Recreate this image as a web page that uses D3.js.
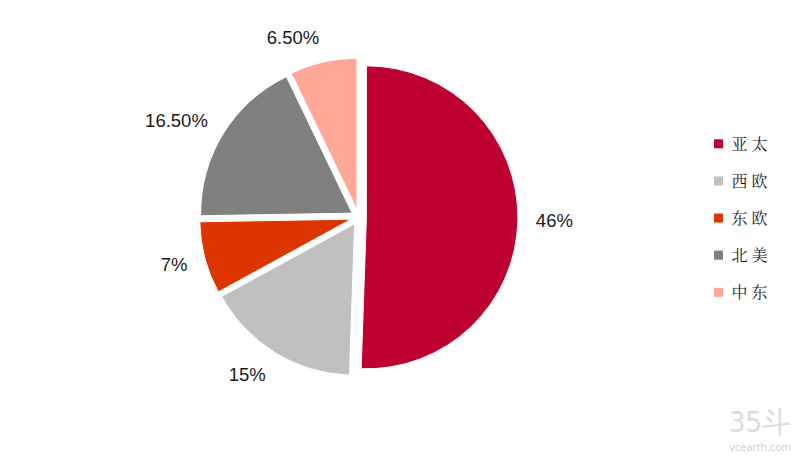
<!DOCTYPE html>
<html>
<head>
<meta charset="utf-8">
<script src="https://cdn.jsdelivr.net/npm/d3@7"></script>
<style>
  html, body { margin: 0; padding: 0; background: #fff; }
  svg { display: block; }
</style>
</head>
<body>
<svg id="chart" width="795" height="468"></svg>
<script>
const categories = ["亚太", "西欧", "东欧", "北美", "中东"];
const values = [46, 15, 7, 16.5, 6.5];
const valueLabels = ["46%", "15%", "7%", "16.50%", "6.50%"];
const colors = ["#BD0030", "#C0C0C0", "#DC3500", "#808080", "#FFA897"];

const svg = d3.select("#chart");
const cx = 358.7, cy = 217.2, r = 151.5, explode = 7.7;

const pie = d3.pie().sort(null).value(d => d)
  .startAngle(0).endAngle(2 * Math.PI);
const arcs = pie(values);
const arc = d3.arc().innerRadius(0).outerRadius(r);
const midArc = d3.arc().innerRadius(r + explode).outerRadius(r + explode);

const g = svg.append("g").attr("transform", `translate(${cx},${cy})`);

g.selectAll("path.slice").data(arcs).enter().append("path")
  .attr("class", "slice")
  .attr("d", arc)
  .attr("fill", (d, i) => colors[i])
  .attr("stroke", "#fff")
  .attr("stroke-width", 1)
  .attr("transform", d => {
    const a = (d.startAngle + d.endAngle) / 2;
    return `translate(${explode * Math.sin(a)},${-explode * Math.cos(a)})`;
  });

// Outside labels
const fs = 18.5, D = 18, lh = 15;
g.selectAll("text.lbl").data(arcs).enter().append("text")
  .attr("class", "lbl")
  .attr("font-family", "'Liberation Sans', Arial, sans-serif")
  .attr("font-size", fs)
  .attr("fill", "#1a1a1a")
  .attr("text-anchor", d => {
    const a = (d.startAngle + d.endAngle) / 2;
    return Math.sin(a) >= 0 ? "start" : "end";
  })
  .attr("x", d => {
    const a = (d.startAngle + d.endAngle) / 2;
    const p = midArc.centroid(d);
    return p[0] + D * Math.sin(a);
  })
  .attr("y", d => {
    const a = (d.startAngle + d.endAngle) / 2;
    const p = midArc.centroid(d);
    const uy = -Math.cos(a);
    return p[1] + D * uy + (lh / 2) * uy;
  })
  .attr("dy", "0.36em")
  .text((d, i) => valueLabels[i]);

// Legend
const legendY = d3.scalePoint().domain(categories).range([143.8, 292.3]);
const lg = svg.append("g");
const items = lg.selectAll("g.item").data(categories).enter().append("g")
  .attr("class", "item")
  .attr("transform", d => `translate(714,${legendY(d)})`);
items.append("rect")
  .attr("x", 0).attr("y", -4.5).attr("width", 9).attr("height", 9)
  .attr("fill", (d, i) => colors[i]);
items.append("text")
  .attr("x", 17.5).attr("y", 0).attr("dy", "0.36em")
  .attr("font-family", "'Noto Serif CJK SC', 'Noto Sans CJK SC', sans-serif")
  .attr("font-size", 16)
  .attr("letter-spacing", 4)
  .attr("fill", "#1a1a1a")
  .text(d => d);

// Watermark
svg.append("text")
  .attr("x", 729).attr("y", 432)
  .attr("font-family", "'DejaVu Sans Condensed', 'Liberation Sans Narrow', sans-serif")
  .attr("font-size", 29)
  .attr("font-weight", 300)
  .attr("fill", "#dcdcdc")
  .text("35斗");
svg.append("text")
  .attr("x", 729).attr("y", 451)
  .attr("font-family", "'Liberation Sans Narrow', 'DejaVu Sans Condensed', sans-serif")
  .attr("font-size", 11)
  .attr("fill", "#d0d0d0")
  .text("vcearth.com");
</script>
</body>
</html>
